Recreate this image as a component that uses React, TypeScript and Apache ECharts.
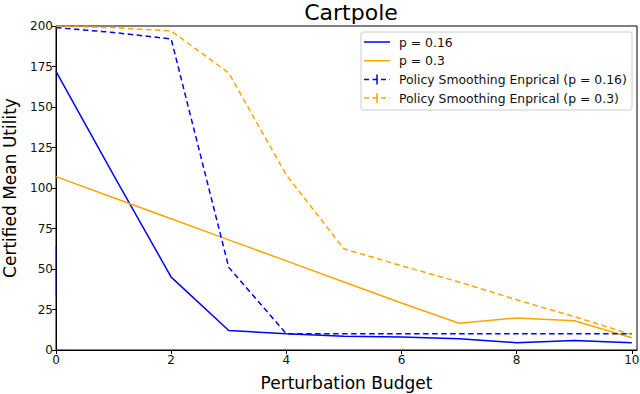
import React, { useEffect, useRef } from "react";
import * as echarts from "echarts";

const budgets = [0, 1, 2, 3, 4, 5, 6, 7, 8, 9, 10];
const certP016 = [172, 108, 45, 12, 10, 8.5, 8, 7, 4.5, 5.8, 4.5];
const certP03 = [107, 94, 81, 68, 55, 42, 29, 16.5, 19.8, 18, 7.6];
const empP016 = [199, 196, 192, 51, 10, 10, 10, 10, 10, 10, 10];
const empP03 = [200, 199, 197, 171, 108, 62.5, 52, 42, 31, 20.6, 9.5];
const errBarX0 = [[0, 33], [0, 64]];
const xTicks = [0, 2, 4, 6, 8, 10];
const legendNames = [
  "p = 0.16",
  "p = 0.3",
  "Policy Smoothing Enprical (p = 0.16)",
  "Policy Smoothing Enprical (p = 0.3)",
];

const BLUE = "#0000ff";
const ORANGE = "#ffa500";
const FONT = "DejaVu Sans";

export default function App() {
  const ref = useRef<HTMLDivElement>(null);
  useEffect(() => {
    if (!ref.current) return;
    document.body.style.margin = "0";
    const chart = echarts.init(ref.current, null, { renderer: "svg" });
    const pts = (ys: number[]) => budgets.map((x, i) => [x, ys[i]]);
    const legendColors = [BLUE, ORANGE, BLUE, ORANGE];
    const legendDashed = [false, false, true, true];
    const legendEls: any[] = [
      {
        type: "rect",
        shape: { x: 361, y: 32, width: 271, height: 78, r: 2 },
        style: { fill: "rgba(255,255,255,0.8)", stroke: "#cccccc", lineWidth: 1 },
        z: 10,
      },
    ];
    legendNames.forEach((name, i) => {
      const y = 42 + i * 18.7;
      const c = legendColors[i];
      if (legendDashed[i]) {
        legendEls.push({
          type: "line",
          shape: { x1: 364, y1: y, x2: 390, y2: y },
          style: { stroke: c, lineWidth: 1.5, lineDash: [5, 3.5] },
          z: 11,
        });
        legendEls.push({
          type: "line",
          shape: { x1: 377, y1: y - 5, x2: 377, y2: y + 5 },
          style: { stroke: c, lineWidth: 1.5 },
          z: 11,
        });
      } else {
        legendEls.push({
          type: "line",
          shape: { x1: 364, y1: y, x2: 390, y2: y },
          style: { stroke: c, lineWidth: 1.5 },
          z: 11,
        });
      }
      legendEls.push({
        type: "text",
        x: 399,
        y,
        style: {
          text: name,
          fill: "#111",
          font: `12.4px "${FONT}"`,
          verticalAlign: "middle",
          align: "left",
        },
        z: 11,
      });
    });

    const lineSeries = (name: string, ys: number[], color: string, dashed: boolean) => ({
      name,
      type: "line",
      data: pts(ys),
      symbol: "none",
      lineStyle: { color, width: 1.5, type: dashed ? [5.5, 3.5] : "solid" },
      itemStyle: { color },
      z: 3,
    });

    chart.setOption({
      animation: false,
      backgroundColor: "#fff",
      title: {
        text: "Cartpole",
        left: 346,
        textAlign: "center",
        top: -4,
        textStyle: { fontFamily: FONT, fontSize: 22, fontWeight: "normal", color: "#000" },
      },
      grid: {
        left: 56,
        right: 3,
        top: 26,
        bottom: 44,
        show: true,
        borderColor: "#000",
        borderWidth: 1,
        containLabel: false,
        outerBoundsMode: "none",
      },
      xAxis: {
        type: "value",
        min: 0,
        max: 10.09,
        name: "Perturbation Budget",
        nameLocation: "middle",
        nameGap: 24,
        nameTextStyle: { fontFamily: FONT, fontSize: 17, color: "#000" },
        splitLine: { show: false },
        axisLine: { show: true, lineStyle: { color: "#000", width: 1 } },
        axisTick: { show: true, length: 4, lineStyle: { color: "#000" }, customValues: xTicks },
        axisLabel: {
          fontFamily: FONT,
          fontSize: 12,
          color: "#111",
          margin: 4,
          customValues: xTicks,
        },
      },
      yAxis: {
        type: "value",
        min: 0,
        max: 200,
        interval: 25,
        name: "Certified Mean Utility",
        nameLocation: "middle",
        nameGap: 38,
        nameTextStyle: { fontFamily: FONT, fontSize: 17, color: "#000" },
        splitLine: { show: false },
        axisLine: { show: true, lineStyle: { color: "#000", width: 1 } },
        axisTick: { show: true, length: 4, lineStyle: { color: "#000" } },
        axisLabel: { fontFamily: FONT, fontSize: 12, color: "#111", margin: 3 },
      },
      graphic: legendEls,
      series: [
        lineSeries(legendNames[0], certP016, BLUE, false),
        lineSeries(legendNames[1], certP03, ORANGE, false),
        lineSeries(legendNames[2], empP016, BLUE, true),
        lineSeries(legendNames[3], empP03, ORANGE, true),
        {
          name: "errbar",
          type: "line",
          data: errBarX0,
          symbol: "none",
          clip: false,
          lineStyle: { color: BLUE, width: 1, opacity: 0.6 },
          z: 1,
        },
      ],
    });
    return () => chart.dispose();
  }, []);
  return <div ref={ref} style={{ width: 640, height: 394 }} />;
}
